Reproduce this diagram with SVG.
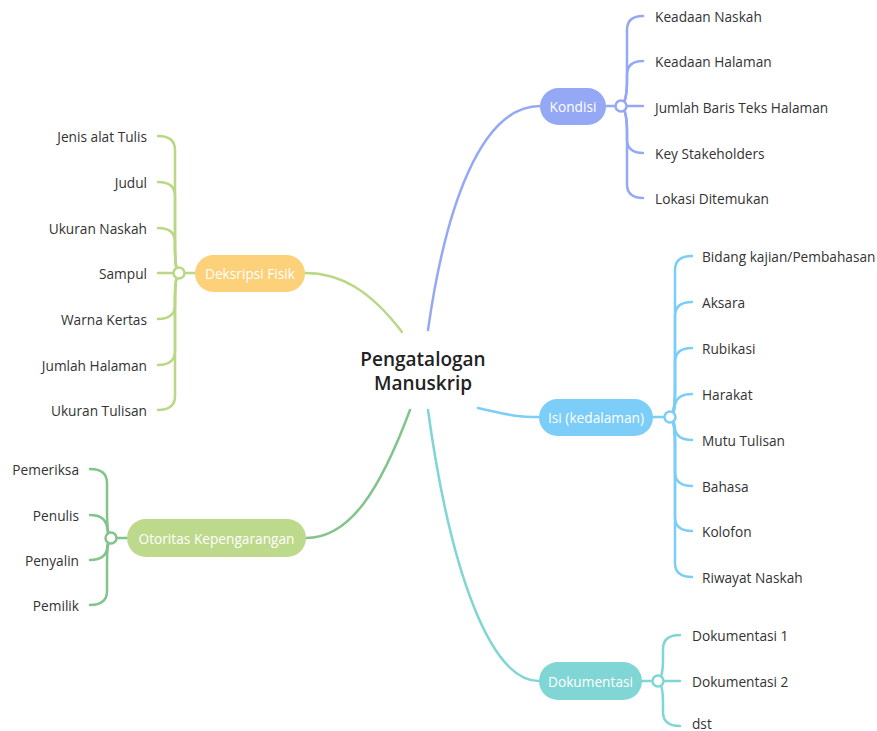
<svg xmlns="http://www.w3.org/2000/svg" width="877" height="731" viewBox="0 0 877 731">
<style>
  text { font-family: "Open Sans", "Liberation Sans", sans-serif; font-size: 13.7px; fill: #333; }
  .pill text { fill: #fff; text-anchor: middle; dominant-baseline: central; }
  .leaf { dominant-baseline: central; }
  .r { text-anchor: end; }
  .ln { fill: none; stroke-width: 2.5; stroke-linecap: round; }
  .dot { fill: #fff; stroke-width: 2.5; }
  .title { font-size: 19px; font-weight: 600; fill: #222; text-anchor: middle; }
</style>
<rect width="877" height="731" fill="#fff"/>
<g id="connectors">
  <path class="ln" stroke="#94a8f5" d="M428,330 C445,210 480,106 540,106"/>
  <path class="ln" stroke="#7ccdf7" d="M478,408 C510,415 515,417 539,417"/>
  <path class="ln" stroke="#7fd6d4" d="M428,410 C450,570 490,681 539,681"/>
  <path class="ln" stroke="#b8d884" d="M402,332 C370,290 340,273 305,273"/>
  <path class="ln" stroke="#82c48a" d="M410,410 C380,490 350,538 306,538"/>
  <g stroke="#94a8f5">
    <path class="ln" d="M622,106 Q627,100 627,80 L627,30 Q627,16 643,16"/>
    <path class="ln" d="M622,106 Q627,100 627,80 L627,75 Q627,61 643,61"/>
    <path class="ln" d="M627,106 L643,106"/>
    <path class="ln" d="M622,106 Q627,112 627,132 L627,139 Q627,153 643,153"/>
    <path class="ln" d="M622,106 Q627,112 627,132 L627,184 Q627,198 643,198"/>
  </g>
  <g stroke="#7ccdf7">
    <path class="ln" d="M671,417 Q675,411 675,391 L675,270 Q675,256 692,256"/>
    <path class="ln" d="M671,417 Q675,411 675,391 L675,316 Q675,302 692,302"/>
    <path class="ln" d="M671,417 Q675,411 675,391 L675,362 Q675,348 692,348"/>
    <path class="ln" d="M671,417 Q675,411 675,405 Q677,394 692,394"/>
    <path class="ln" d="M671,417 Q675,423 675,429 Q677,440 692,440"/>
    <path class="ln" d="M671,417 Q675,423 675,443 L675,472 Q675,486 692,486"/>
    <path class="ln" d="M671,417 Q675,423 675,443 L675,517 Q675,531 692,531"/>
    <path class="ln" d="M671,417 Q675,423 675,443 L675,563 Q675,577 692,577"/>
  </g>
  <g stroke="#7fd6d4">
    <path class="ln" d="M659,681 Q663,675 663,660 L663,649 Q663,635 680,635"/>
    <path class="ln" d="M663,681 L680,681"/>
    <path class="ln" d="M659,681 Q663,687 663,702 L663,712 Q663,726 680,726"/>
  </g>
  <g stroke="#b8d884">
    <path class="ln" d="M178,273 Q175,267 175,247 L175,150 Q175,136 158,136"/>
    <path class="ln" d="M178,273 Q175,267 175,247 L175,196 Q175,182 158,182"/>
    <path class="ln" d="M178,273 Q175,267 175,247 L175,242 Q175,228 158,228"/>
    <path class="ln" d="M175,273 L158,273"/>
    <path class="ln" d="M178,273 Q175,279 175,299 L175,305 Q175,319 158,319"/>
    <path class="ln" d="M178,273 Q175,279 175,299 L175,351 Q175,365 158,365"/>
    <path class="ln" d="M178,273 Q175,279 175,299 L175,396 Q175,410 158,410"/>
  </g>
  <g stroke="#82c48a">
    <path class="ln" d="M110,538 Q107,532 107,512 L107,483 Q107,469 90,469"/>
    <path class="ln" d="M110,538 Q107,532 107,527 Q105,515 90,515"/>
    <path class="ln" d="M110,538 Q107,544 107,549 Q105,560 90,560"/>
    <path class="ln" d="M110,538 Q107,544 107,564 L107,591 Q107,605 90,605"/>
  </g>
  <path class="ln" stroke="#94a8f5" d="M606,106 L616,106"/>
  <path class="ln" stroke="#7ccdf7" d="M653,417 L665,417"/>
  <path class="ln" stroke="#7fd6d4" d="M642,681 L653,681"/>
  <path class="ln" stroke="#b8d884" d="M195,273 L184,273"/>
  <path class="ln" stroke="#82c48a" d="M127,538 L116,538"/>
  <circle class="dot" stroke="#94a8f5" cx="621" cy="106" r="5.5"/>
  <circle class="dot" stroke="#7ccdf7" cx="670" cy="417" r="5.5"/>
  <circle class="dot" stroke="#7fd6d4" cx="658" cy="681" r="5.5"/>
  <circle class="dot" stroke="#b8d884" cx="179" cy="273" r="5.5"/>
  <circle class="dot" stroke="#82c48a" cx="111" cy="538" r="5.5"/>
</g>
<g id="central">
  <text class="title" x="423" y="366">Pengatalogan<tspan x="423" dy="24">Manuskrip</tspan></text>
</g>
<g id="kondisi" class="pill">
  <rect x="540" y="88" width="66" height="37" rx="18.5" fill="#94a8f5"/>
  <text x="573" y="106.5">Kondisi</text>
</g>
<g id="isi" class="pill">
  <rect x="539" y="399" width="114" height="37" rx="18.5" fill="#7ccdf7"/>
  <text x="596" y="417.5">Isi (kedalaman)</text>
</g>
<g id="dokumentasi" class="pill">
  <rect x="539" y="662" width="103" height="38" rx="19" fill="#7fd6d4"/>
  <text x="590.5" y="681.5">Dokumentasi</text>
</g>
<g id="deskripsi" class="pill">
  <rect x="195" y="255" width="110" height="37" rx="18.5" fill="#fdd07a"/>
  <text x="250" y="273.5">Deksripsi Fisik</text>
</g>
<g id="otoritas" class="pill">
  <rect x="127" y="519" width="179" height="38" rx="19" fill="#bdd98b"/>
  <text x="216.5" y="538.5">Otoritas Kepengarangan</text>
</g>
<g id="kondisi-children">
  <text class="leaf" x="655" y="16">Keadaan Naskah</text>
  <text class="leaf" x="655" y="61">Keadaan Halaman</text>
  <text class="leaf" x="655" y="107">Jumlah Baris Teks Halaman</text>
  <text class="leaf" x="655" y="153">Key Stakeholders</text>
  <text class="leaf" x="655" y="198">Lokasi Ditemukan</text>
</g>
<g id="isi-children">
  <text class="leaf" x="702" y="256">Bidang kajian/Pembahasan</text>
  <text class="leaf" x="702" y="302">Aksara</text>
  <text class="leaf" x="702" y="348">Rubikasi</text>
  <text class="leaf" x="702" y="394">Harakat</text>
  <text class="leaf" x="702" y="440">Mutu Tulisan</text>
  <text class="leaf" x="702" y="486">Bahasa</text>
  <text class="leaf" x="702" y="531">Kolofon</text>
  <text class="leaf" x="702" y="577">Riwayat Naskah</text>
</g>
<g id="dokumentasi-children">
  <text class="leaf" x="692" y="635">Dokumentasi 1</text>
  <text class="leaf" x="692" y="681">Dokumentasi 2</text>
  <text class="leaf" x="692" y="723">dst</text>
</g>
<g id="deskripsi-children">
  <text class="leaf r" x="147" y="136">Jenis alat Tulis</text>
  <text class="leaf r" x="147" y="182">Judul</text>
  <text class="leaf r" x="147" y="228">Ukuran Naskah</text>
  <text class="leaf r" x="147" y="273">Sampul</text>
  <text class="leaf r" x="147" y="319">Warna Kertas</text>
  <text class="leaf r" x="147" y="365">Jumlah Halaman</text>
  <text class="leaf r" x="147" y="410">Ukuran Tulisan</text>
</g>
<g id="otoritas-children">
  <text class="leaf r" x="79" y="469">Pemeriksa</text>
  <text class="leaf r" x="79" y="515">Penulis</text>
  <text class="leaf r" x="79" y="560">Penyalin</text>
  <text class="leaf r" x="79" y="605">Pemilik</text>
</g>
</svg>
